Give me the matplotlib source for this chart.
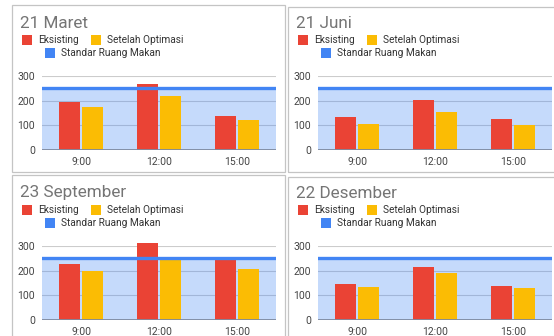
import matplotlib
matplotlib.use("Agg")
import matplotlib.pyplot as plt
from matplotlib.patches import Rectangle

# ---- data ----
categories = ["9:00", "12:00", "15:00"]
titles = ["21 Maret", "21 Juni", "23 September", "22 Desember"]

eksisting_maret = [194, 267, 137]
optimasi_maret = [174, 220, 121]
eksisting_juni = [132, 201, 124]
optimasi_juni = [107, 155, 100]
eksisting_sept = [228, 311, 242]
optimasi_sept = [198, 257, 205]
eksisting_des = [144, 213, 137]
optimasi_des = [134, 191, 130]

standar_ruang_makan = 250
y_ticks = [0, 100, 200, 300]

legend_labels = ["Eksisting", "Setelah Optimasi", "Standar Ruang Makan"]

RED = "#ea4335"
YELLOW = "#fbbc04"
BLUE = "#4285f4"

W, H = 554, 336
fig = plt.figure(figsize=(W / 100, H / 100), dpi=100)
fig.patch.set_facecolor("white")
plt.rcParams["font.family"] = ["Roboto", "DejaVu Sans"]


def fx(px):
    return px / W


def fy(py):
    return 1 - py / H


def rect_axes(left, top, width, height):
    return fig.add_axes([fx(left), fy(top + height), width / W, height / H])


series = [
    (eksisting_maret, optimasi_maret),
    (eksisting_juni, optimasi_juni),
    (eksisting_sept, optimasi_sept),
    (eksisting_des, optimasi_des),
]
offsets = [(0, 0), (276, 0), (0, 170), (276, 170)]

for i, (title, (eks, opt), (dx, dy)) in enumerate(zip(titles, series, offsets)):
    # panel frame (right-hand panels run past the edge of the canvas)
    frame_w = 273 if dx == 0 else 300
    top = 5 + dy if dx == 0 else 7 + dy
    fig.patches.append(Rectangle((fx(12 + dx), fy(172 + dy)), frame_w / W, (172 + dy - top) / H,
                                 transform=fig.transFigure, fill=False,
                                 edgecolor="#c4c4c4", lw=0.9, zorder=0))
    # title
    fig.text(fx(20 + dx), fy(23 + dy), title, fontsize=12.3, color="#757575",
             va="center", ha="left")
    # legend
    items = [(22, 40, RED, 38, legend_labels[0]),
             (91, 40, YELLOW, 107, legend_labels[1]),
             (45, 53, BLUE, 61, legend_labels[2])]
    for sx, sy, col, tx, lab in items:
        fig.patches.append(Rectangle((fx(sx + dx), fy(sy + 5 + dy)), 10 / W, 10 / H,
                                     transform=fig.transFigure, facecolor=col,
                                     edgecolor="none"))
        fig.text(fx(tx + dx), fy(sy + dy), lab, fontsize=7.3, color="#333333",
                 va="center", ha="left")

    # plot area
    ax = rect_axes(42 + dx, 76 + dy, 234, 74)
    x = [0.5, 1.5, 2.5]
    ax.set_xlim(0, 3)
    ax.set_ylim(0, 300)
    for t in y_ticks[1:]:
        ax.axhline(t, color="#cccccc", lw=0.8, zorder=0)
    ax.fill_between([0, 3], 0, standar_ruang_makan, color=BLUE, alpha=0.3,
                    lw=0, zorder=1)
    bw = 0.27
    b1 = ax.bar([v - 0.145 for v in x], eks, width=bw, color=RED, zorder=2)
    b2 = ax.bar([v + 0.145 for v in x], opt, width=bw, color=YELLOW, zorder=2)
    for p in list(b1) + list(b2):
        p.set_clip_on(False)
    ax.axhline(standar_ruang_makan, color=BLUE, lw=2.4, zorder=3)
    ax.axhline(0, color="#7d8aa0", lw=1.3, zorder=3)
    ax.set_xticks(x)
    ax.set_xticklabels(categories)
    ax.set_yticks(y_ticks)
    ax.tick_params(axis="both", length=0, labelsize=7.5, labelcolor="#444444")
    ax.tick_params(axis="y", pad=5)
    ax.tick_params(axis="x", pad=5)
    for s in ax.spines.values():
        s.set_visible(False)
    ax.set_facecolor("none")

fig.savefig("out.png", dpi=100)
